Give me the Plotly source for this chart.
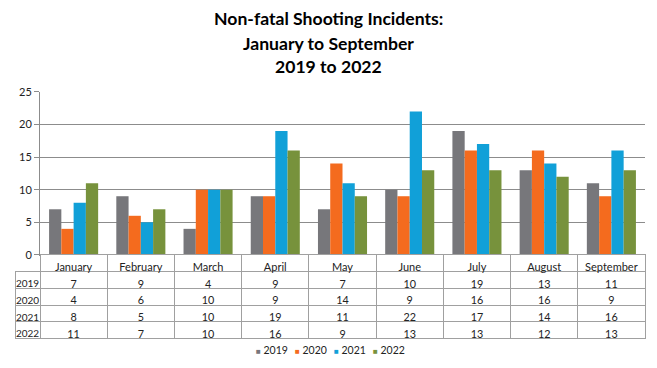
import plotly.graph_objects as go

months = ["January", "February", "March", "April", "May", "June", "July", "August", "September"]
years = ["2019", "2020", "2021", "2022"]
v2019 = [7, 9, 4, 9, 7, 10, 19, 13, 11]
v2020 = [4, 6, 10, 9, 14, 9, 16, 16, 9]
v2021 = [8, 5, 10, 19, 11, 22, 17, 14, 16]
v2022 = [11, 7, 10, 16, 9, 13, 13, 12, 13]
series = [v2019, v2020, v2021, v2022]
colors = ["#77777b", "#f46b1e", "#11a0d8", "#77923c"]
title_lines = ["Non-fatal Shooting Incidents:", "January to September", "2019 to 2022"]

W, H = 657, 368
FONT = "Lato"
GRID = "#8c8c8c"
TABLE_LINE = "#a0a0a0"
TXT = "#222222"

def px_x(p):
    return p / W

def px_y(p):
    return 1 - p / H

fig = go.Figure()
for name, vals, c in zip(years, series, colors):
    fig.add_trace(go.Bar(x=months, y=vals, name=name, marker_color=c,
                         marker_line_width=0, xaxis="x", yaxis="y", showlegend=False,
                         hoverinfo="skip"))

# data table below the chart
col_w = [25] + [67.2] * len(months)
header_vals = [""] + months
cell_vals = [years] + [[s[i] for s in series] for i in range(len(months))]
fig.add_trace(go.Table(
    domain=dict(x=[px_x(15), px_x(645)], y=[0, px_y(257)]),
    columnwidth=col_w,
    header=dict(values=header_vals, height=16.7,
                fill_color=["rgba(0,0,0,0)"] + ["white"] * len(months),
                line=dict(color=["rgba(0,0,0,0)"] + [TABLE_LINE] * len(months), width=1),
                font=dict(family=FONT, size=11, color=TXT), align="center"),
    cells=dict(values=cell_vals, height=16.7, fill_color="white",
               line=dict(color=TABLE_LINE, width=1),
               font=dict(family=FONT, size=[10] + [10.8] * len(months), color=TXT),
               align="center"),
))

for i, t in enumerate(title_lines):
    fig.add_annotation(text="<b>" + t + "</b>", xref="paper", yref="paper",
                       x=0.5, y=px_y([12, 38, 62][i]), xanchor="center", yanchor="middle",
                       showarrow=False, font=dict(family=FONT, size=17.6, color="#000000"))

# legend entries
leg_x0, leg_step = 254, 39
for i, (name, c) in enumerate(zip(years, colors)):
    fig.add_annotation(text="<span style='color:%s;font-size:8px'>■</span> %s" % (c, name),
                       xref="paper", yref="paper", x=px_x(leg_x0 + i * leg_step), y=px_y(356),
                       xanchor="left", yanchor="middle", showarrow=False,
                       font=dict(family=FONT, size=10.5, color=TXT))

fig.update_layout(
    width=W, height=H, autosize=False,
    margin=dict(l=0, r=0, t=0, b=0),
    paper_bgcolor="white", plot_bgcolor="white",
    barmode="group", bargap=0.27, bargroupgap=0,
    font=dict(family=FONT, size=11, color=TXT),
    hovermode=False,
    xaxis=dict(domain=[px_x(40), px_x(645)], range=[-0.5, 8.5], showticklabels=False,
               showline=True, linecolor=GRID, ticks="", showgrid=False, fixedrange=True),
    yaxis=dict(domain=[px_y(257), px_y(88)], range=[0, 25], dtick=5, showline=True,
               linecolor=GRID, ticks="outside", ticklen=5, tickcolor=GRID,
               showgrid=True, gridcolor=GRID, gridwidth=1, zeroline=False, fixedrange=True,
               tickfont=dict(family=FONT, size=11, color=TXT)),
    showlegend=False,
)

fig.write_html("out.html", config={"displayModeBar": False},
               post_script="document.body.style.margin='0';document.body.style.overflow='hidden';")
